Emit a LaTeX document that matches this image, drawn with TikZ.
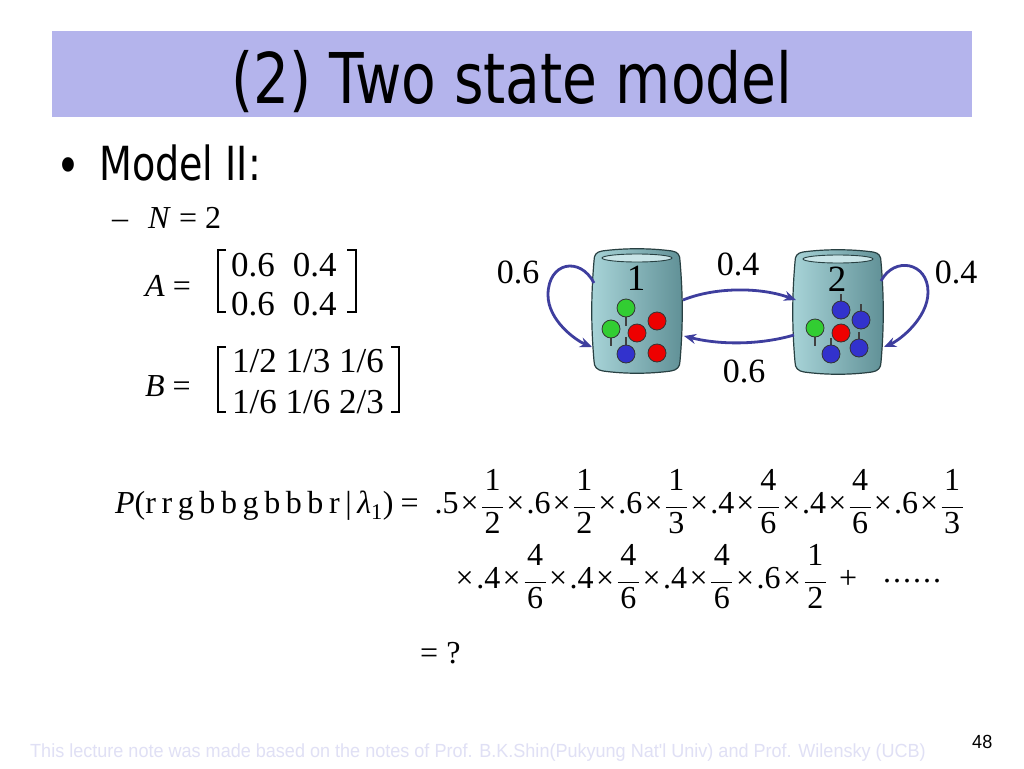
\documentclass[tikz,border=0pt]{standalone}
\usepackage{fontspec}
\setmainfont{Liberation Serif}
\newfontfamily\titlefont{DejaVu Sans}[FakeStretch=0.81]
\newfontfamily\footfont{Liberation Sans}[FakeStretch=0.95]
\usetikzlibrary{arrows.meta}
\definecolor{titlebg}{RGB}{180,180,236}
\definecolor{arrowc}{RGB}{62,62,158}
\definecolor{footc}{RGB}{224,224,245}
\definecolor{urnL}{RGB}{168,212,216}
\definecolor{urnR}{RGB}{96,144,150}
\definecolor{urnline}{RGB}{40,64,66}
\definecolor{rimc}{RGB}{200,228,231}
\definecolor{ballg}{RGB}{50,205,50}
\definecolor{ballr}{RGB}{238,0,0}
\definecolor{ballb}{RGB}{50,50,205}
\newcommand\fr[2]{{\nulldelimiterspace=1.2pt$\displaystyle\frac{\raisebox{6pt}{\hspace{2.5pt}#1\hspace{2.5pt}}}{\raisebox{-3pt}{#2}}$}}
\newcommand\X{\hspace{2.1pt}×\hspace{2.1pt}}
\newcommand\Xw{\hspace{2.5pt}×\hspace{2.5pt}}
\newcommand\gsp{\hspace{5.6pt}}
\newcommand\sixdots{\raisebox{6pt}{.\hspace{2pt}.\hspace{2pt}.\hspace{2pt}.\hspace{2pt}.\hspace{2pt}.}}
\newcommand\urnshape{%
  (8,0) .. controls (30,-3) and (56,-3) .. (78,0)
  .. controls (84,1) and (86,4) .. (86,10)
  .. controls (89,45) and (89,75) .. (86,110)
  .. controls (86,116) and (83,119) .. (77,120)
  .. controls (55,123) and (31,123) .. (9,120)
  .. controls (3,119) and (0,116) .. (0,110)
  .. controls (-3,75) and (-3,45) .. (0,10)
  .. controls (0,4) and (2,1) .. (8,0) -- cycle}
\tikzset{
  serif/.style={font=\fontsize{34}{38}\selectfont, inner sep=0pt},
  urnlab/.style={font=\fontsize{37}{40}\selectfont, inner sep=0pt},
  mathtxt/.style={font=\fontsize{32}{36}\selectfont, inner sep=0pt, anchor=base west},
  mattxt/.style={font=\fontsize{35}{38}\selectfont, inner sep=0pt, anchor=base west},
  arr/.style={draw=arrowc, line width=2.8pt, -{Stealth[length=12pt,width=10pt]}},
  urnbody/.style={draw=urnline, line width=1.2pt, left color=urnL, right color=urnR},
  ball/.style={circle, draw=black!80, line width=0.8pt, minimum size=18pt, inner sep=0pt},
  stem/.style={draw=black!75, line width=1.2pt},
  bracket/.style={draw=black, line width=1.3pt},
}
\begin{document}
\begin{tikzpicture}[x=1pt,y=-1pt]
\useasboundingbox (0,0) rectangle (1024,768);
\fill[white] (0,0) rectangle (1024,768);
% title
\fill[titlebg] (52,31) rectangle (972,117);
\node[anchor=base, inner sep=0pt, font=\titlefont\fontsize{70}{72}\selectfont] (title) at (512,103) {(2) Two state model};
% bullet
\node[inner sep=0pt, font=\titlefont\fontsize{50}{52}\selectfont] (bullet) at (68,171) {•};
\node[anchor=base west, inner sep=0pt, font=\titlefont\fontsize{47}{50}\selectfont] (model) at (99,180) {Model II:};
% N = 2
\node[mathtxt] (nline) at (112,228) {–\hspace{20pt}\textit{N} = 2};
% A matrix
\node[mathtxt] (Alab) at (145,296) {\textit{A} =};
\node[mattxt] (A1) at (231,276) {0.6\hspace{18pt}0.4};
\node[mattxt] (A2) at (231,315) {0.6\hspace{18pt}0.4};
\draw[bracket] (226,250) -- (218,250) -- (218,312) -- (226,312);
\draw[bracket] (347,250) -- (356,250) -- (356,312) -- (347,312);
% B matrix
\node[mathtxt] (Blab) at (145,396) {\textit{B} =};
\node[mattxt] (B1) at (232,372) {1/2 1/3 1/6};
\node[mattxt] (B2) at (232,413) {1/6 1/6 2/3};
\draw[bracket] (226,347) -- (218,347) -- (218,412) -- (226,412);
\draw[bracket] (391,347) -- (399,347) -- (399,412) -- (391,412);
% urns
\begin{scope}[shift={(594,251)}]
  \path[urnbody] \urnshape;
  \draw[urnline, line width=0.9pt, fill=rimc] (43,7) ellipse (35pt and 4pt);
\end{scope}
\begin{scope}[shift={(795,252)}]
  \path[urnbody] \urnshape;
  \draw[urnline, line width=0.9pt, fill=rimc] (43,7) ellipse (35pt and 4pt);
\end{scope}
\node[urnlab] (u1) at (636,278) {1};
\node[urnlab] (u2) at (837,279) {2};
% balls urn 1
\draw[stem] (626,316) -- (626,326);
\draw[stem] (611,337) -- (611,346);
\draw[stem] (626,345) -- (626,337);
\node[ball, fill=ballg] (g11) at (626,308) {};
\node[ball, fill=ballg] (g12) at (611,329) {};
\node[ball, fill=ballr] (r11) at (657,321) {};
\node[ball, fill=ballr] (r12) at (637,333) {};
\node[ball, fill=ballr] (r13) at (657,353) {};
\node[ball, fill=ballb] (b11) at (626,354) {};
% balls urn 2
\draw[stem] (841,302) -- (841,294);
\draw[stem] (861,312) -- (861,304);
\draw[stem] (815,336) -- (815,346);
\draw[stem] (859,340) -- (859,332);
\draw[stem] (831,346) -- (831,338);
\node[ball, fill=ballb] (b21) at (841,310) {};
\node[ball, fill=ballb] (b22) at (861,320) {};
\node[ball, fill=ballg] (g21) at (815,328) {};
\node[ball, fill=ballr] (r21) at (841,333) {};
\node[ball, fill=ballb] (b23) at (859,348) {};
\node[ball, fill=ballb] (b24) at (831,354) {};
% connection points
\coordinate (s1a) at (594,283);
\coordinate (s1b) at (592,347);
\coordinate (t12a) at (683,300);
\coordinate (t12b) at (796,300);
\coordinate (t21a) at (794,335);
\coordinate (t21b) at (684,336);
\coordinate (s2a) at (881,281);
\coordinate (s2b) at (884,347);
\draw[arr] (s1a) .. controls (580,256) and (548,262) .. (548,295) .. controls (548,320) and (575,340) .. (s1b);
\draw[arr] (t12a) .. controls (715,287) and (760,287) .. (t12b);
\draw[arr] (t21a) .. controls (760,345) and (720,345) .. (t21b);
\draw[arr] (s2a) .. controls (894,256) and (928,262) .. (928,292) .. controls (928,318) and (900,340) .. (s2b);
\node[serif] (l11) at (518,272) {0.6};
\node[serif] (l12) at (738,264) {0.4};
\node[serif] (l21) at (744,371) {0.6};
\node[serif] (l22) at (956,272) {0.4};
% formula
\node[mathtxt] (f1) at (115,513) {\textit{P}(r\gsp r\gsp g\gsp b\gsp b\gsp g\gsp b\gsp b\gsp b\gsp r\gsp|\gsp\textit{λ}\textsubscript{1})\hspace{7pt}=\hspace{16pt}.5\X\fr12\X.6\X\fr12\X.6\X\fr13\X.4\X\fr46\X.4\X\fr46\X.6\X\fr13};
\node[mathtxt] (f2) at (453,588) {\Xw.4\Xw\fr46\Xw.4\Xw\fr46\Xw.4\Xw\fr46\Xw.6\Xw\fr12\hspace{12pt}+\hspace{26pt}\sixdots};
\node[mathtxt] (f3) at (420,663) {= ?};
% footer
\node[anchor=base west, inner sep=0pt, text=footc, font=\footfont\fontsize{19}{22}\selectfont] (foot) at (30,757) {This lecture note was made based on the notes of Prof. B.K.Shin(Pukyung Nat'l Univ) and Prof. Wilensky (UCB)};
\node[anchor=base west, inner sep=0pt, font=\footfont\fontsize{19}{22}\selectfont] (pg) at (972,748) {48};
\end{tikzpicture}
\end{document}
